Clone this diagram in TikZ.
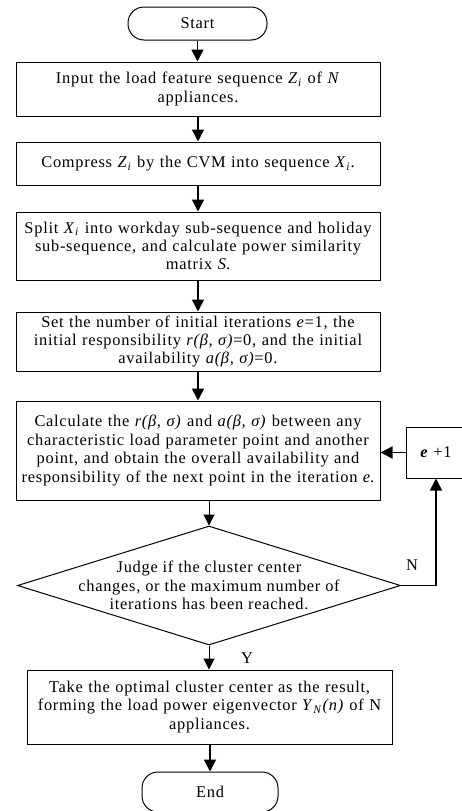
\documentclass[tikz,border=0pt]{standalone}
\usepackage{fontspec}
\setmainfont{Liberation Serif}[LetterSpace=4.5]
\usetikzlibrary{arrows.meta,shapes.geometric}
\newcommand\zsub[2]{\textit{#1}\textsubscript{\textit{#2}}}
\begin{document}
\begin{tikzpicture}[x=1pt,y=1pt,
  font=\fontsize{16.4}{18.4}\selectfont,
  box/.style={draw, line width=1pt, text width=358pt, inner xsep=3pt, inner ysep=0pt, align=center},
  term/.style={draw, line width=1pt, rounded corners=16pt, inner sep=0pt},
  thickarr/.style={line width=1.6pt, -{Triangle[width=12pt,length=12pt]}},
  thinarr/.style={line width=1pt, -{Triangle[width=11pt,length=11pt]}},
  lbl/.style={inner sep=0pt}]
\useasboundingbox (0,0) rectangle (462,-811);
\node[term, minimum width=139pt, minimum height=33pt] (start) at (197.5,-23.5) {Start};
\node[box, minimum height=54pt] (b1) at (198,-89) {Input the load feature sequence \zsub{Z}{i} of \textit{N}\\ appliances.};
\node[box, minimum height=43pt] (b2) at (198,-163.5) {Compress \zsub{Z}{i} by the CVM into sequence \zsub{X}{i}.};
\node[box, minimum height=68pt] (b3) at (198,-246) {Split \zsub{X}{i} into workday sub-sequence and holiday\\ sub-sequence, and calculate power similarity\\ matrix \textit{S}.};
\node[box, minimum height=59pt] (b4) at (198,-341.5) {Set the number of initial iterations \textit{e}=1, the\\ initial responsibility \textit{r(β, σ)}=0, and the initial\\ availability \textit{a(β, σ)}=0.};
\node[box, minimum height=99pt] (b5) at (198,-450.5) {Calculate the \textit{r(β, σ)} and \textit{a(β, σ)} between any\\ characteristic load parameter point and another\\ point, and obtain the overall availability and\\ responsibility of the next point in the iteration \textit{e}.};
\node[draw, line width=1pt, minimum width=60pt, minimum height=51pt, inner sep=0pt] (ebox) at (436,-452.5) {\textbf{\textit{e}} +1};
\node[draw, diamond, line width=1pt, minimum width=383pt, minimum height=119pt, inner sep=0pt] (dec) at (209,-585.5) {};
\node[lbl, align=center] (dtext) at (dec.center) {Judge if the cluster center\\ changes, or the maximum number of\\ iterations has been reached.};
\node[box, text width=359pt, minimum height=74pt] (b6) at (209.5,-707) {Take the optimal cluster center as the result,\\ forming the load power eigenvector \zsub{Y}{N}\textit{(n)} of N\\ appliances.};
\node[term, minimum width=136pt, minimum height=40pt] (end) at (210,-792) {End};
\node[lbl] (nlab) at (412,-565) {N};
\node[lbl] (ylab) at (247,-658) {Y};
\draw[thickarr] (start) -- (start |- b1.north);
\draw[thickarr] (b1) -- (b2);
\draw[thickarr] (b2) -- (b3);
\draw[thickarr] (b3) -- (b4);
\draw[thickarr] (b4) -- (b5);
\draw[thinarr] (dec.north |- b5.south) -- (dec.north);
\draw[thickarr] (ebox.west) -- (ebox.west -| b5.east);
\draw[thickarr] (dec.east) -| (ebox.south);
\draw[thinarr] (dec.south) -- (dec.south |- b6.north);
\draw[thickarr] (b6.south -| end.north) -- (end.north);
\end{tikzpicture}
\end{document}
